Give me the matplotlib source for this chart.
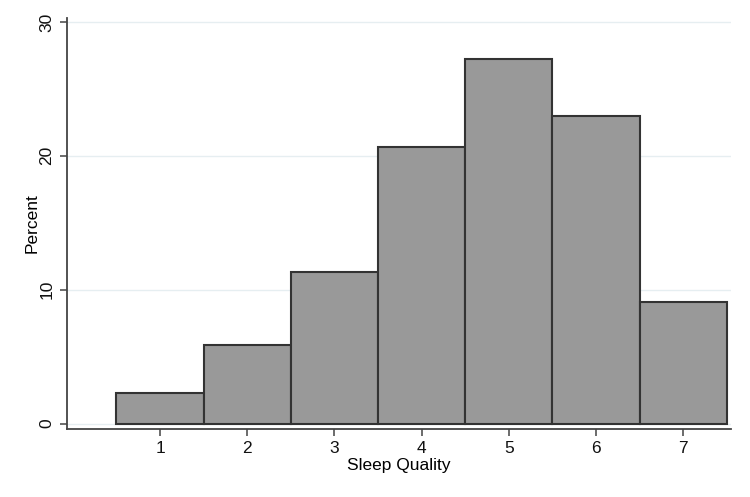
import numpy as np
import matplotlib.pyplot as plt

plt.rcParams['font.family'] = ['Liberation Sans', 'DejaVu Sans']

# dados
categorias = [1, 2, 3, 4, 5, 6, 7]
percentuais = [2.3, 5.85, 11.3, 20.65, 27.25, 22.95, 9.1]
yticks = [0, 10, 20, 30]

fig = plt.figure(figsize=(7.5, 4.97), dpi=100)
ax = fig.add_axes([0.089, 0.137, 0.886, 0.827])

ax.bar(categorias, percentuais, width=1.0, color='#999999',
       edgecolor='#333333', linewidth=1.5, zorder=3)

ax.set_xlim(-0.07, 7.55)
ax.set_ylim(-0.4, 30.3)
ax.set_xticks(categorias)
ax.set_yticks(yticks)
ax.grid(axis='y', color='#e6eef1', linewidth=1, zorder=0)

for s in ['top', 'right']:
    ax.spines[s].set_visible(False)
for s in ['left', 'bottom']:
    ax.spines[s].set_color('#444444')
    ax.spines[s].set_linewidth(1.3)

ax.tick_params(axis='both', colors='#444444', length=5, width=1.1,
               labelsize=12.5, labelcolor='#111111', pad=4)
for lbl in ax.get_yticklabels():
    lbl.set_rotation(90)
    lbl.set_va('center')

ax.set_xlabel('Sleep Quality', fontsize=12.5, labelpad=1)
ax.set_ylabel('Percent', fontsize=12.5, labelpad=0)

fig.savefig('out.png', dpi=100, facecolor='white')
